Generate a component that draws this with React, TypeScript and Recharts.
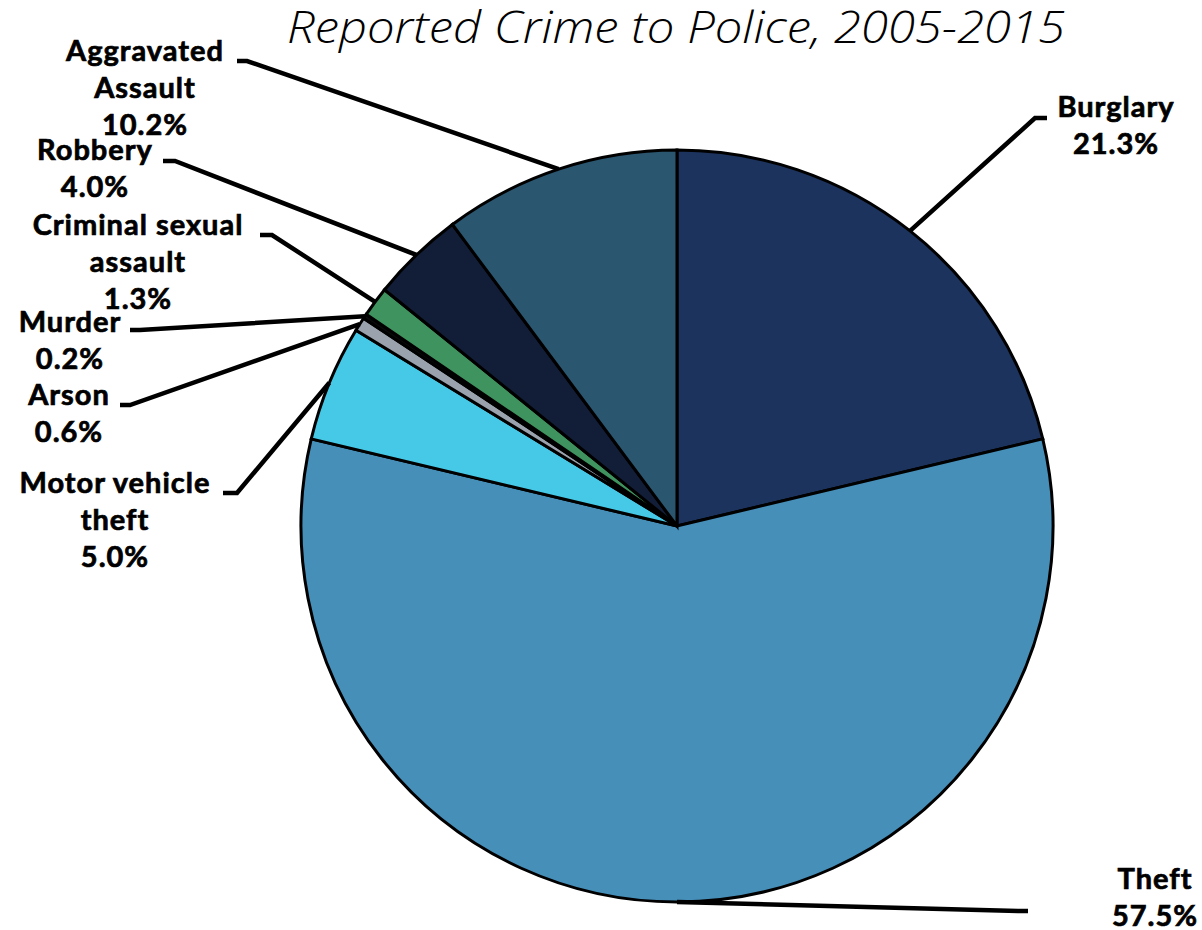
import { Cell, Pie, PieChart } from "recharts";

const categories = [
  "Burglary",
  "Theft",
  "Motor vehicle\ntheft",
  "Arson",
  "Murder",
  "Criminal sexual\nassault",
  "Robbery",
  "Aggravated\nAssault",
];
const shares = [21.3, 57.5, 5.0, 0.6, 0.2, 1.3, 4.0, 10.2];
const colors = ["#1C335E", "#468FB9", "#45C9E7", "#9AA3AD", "#0A0A0A", "#3F935E", "#121E38", "#2B5670"];

// where each label sits: elbow of the leader, end of the short horizontal, text centre and first baseline
const labelLayout = [
  { ex: 1035, ey: 118, hx: 1047, tx: 1116, ty: 117 },
  { ex: 1018, ey: 911, hx: 1028, tx: 1155, ty: 889 },
  { ex: 237, ey: 493, hx: 223, tx: 115, ty: 493 },
  { ex: 130, ey: 405, hx: 120, tx: 69, ty: 405 },
  { ex: 140, ey: 330, hx: 130, tx: 70, ty: 332 },
  { ex: 272, ey: 235, hx: 260, tx: 138, ty: 235 },
  { ex: 175, ey: 161, hx: 163, tx: 95, ty: 160 },
  { ex: 247, ey: 61, hx: 237, tx: 145, ty: 61 },
];

const data = categories.map((name, i) => ({ name, value: shares[i] }));

const RAD = Math.PI / 180;
const LINE_H = 37;

const renderLabel = (props: any) => {
  const { cx, cy, midAngle, outerRadius, index, payload } = props;
  const lay = labelLayout[index];
  const sx = cx + outerRadius * Math.cos(-midAngle * RAD);
  const sy = cy + outerRadius * Math.sin(-midAngle * RAD);
  const lines = [...String(payload.name).split("\n"), `${Number(payload.value).toFixed(1)}%`];
  return (
    <g key={`lbl-${index}`}>
      <polyline
        points={`${sx},${sy} ${lay.ex},${lay.ey} ${lay.hx},${lay.ey}`}
        fill="none"
        stroke="#000"
        strokeWidth={4.5}
      />
      <text
        x={lay.tx}
        y={lay.ty}
        textAnchor="middle"
        fontFamily="Lato, 'Open Sans', sans-serif"
        fontWeight={700}
        fontSize={29}
        letterSpacing={1}
        fill="#000"
        stroke="#000"
        strokeWidth={0.7}
      >
        {lines.map((t, k) => (
          <tspan key={k} x={lay.tx} y={lay.ty + k * LINE_H}>
            {t}
          </tspan>
        ))}
      </text>
    </g>
  );
};

export default function App() {
  return (
    <div style={{ position: "absolute", left: 0, top: 0, width: 1202, height: 930, background: "#fff" }}>
      <PieChart width={1202} height={930} margin={{ top: 0, right: 0, bottom: 0, left: 0 }}>
        <Pie
          data={data}
          dataKey="value"
          nameKey="name"
          cx={677}
          cy={526}
          outerRadius={376}
          startAngle={90}
          endAngle={-270}
          stroke="#000"
          strokeWidth={3}
          label={renderLabel}
          labelLine={false}
          isAnimationActive={false}
        >
          {data.map((d, i) => (
            <Cell key={d.name} fill={colors[i]} />
          ))}
        </Pie>
      </PieChart>
      <svg width={1202} height={70} style={{ position: "absolute", left: 0, top: 0, pointerEvents: "none" }}>
        <text
          x={287}
          y={43}
          textLength={778}
          lengthAdjust="spacingAndGlyphs"
          fontFamily="'Open Sans', sans-serif"
          fontStyle="italic"
          fontWeight={300}
          fontSize={45}
          fill="#000"
        >
          Reported Crime to Police, 2005-2015
        </text>
      </svg>
    </div>
  );
}
